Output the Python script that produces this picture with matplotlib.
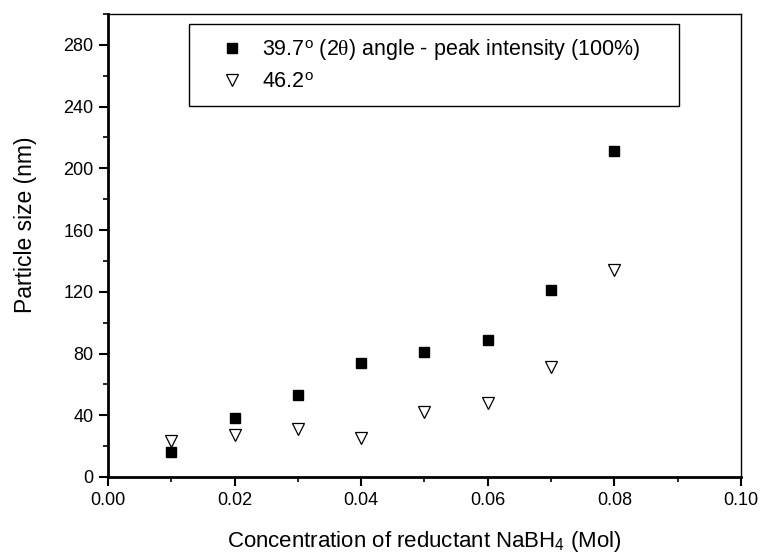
import matplotlib
matplotlib.use("Agg")
import matplotlib.pyplot as plt
from matplotlib.ticker import MultipleLocator, FormatStrFormatter

plt.rcParams['font.family'] = ['Liberation Sans', 'DejaVu Sans']
plt.rcParams['mathtext.fontset'] = 'custom'
plt.rcParams['mathtext.rm'] = 'Liberation Sans'
plt.rcParams['mathtext.it'] = 'Liberation Serif'   # upright serif theta, like Symbol font

# data
conc = [0.01, 0.02, 0.03, 0.04, 0.05, 0.06, 0.07, 0.08]
size_397 = [16, 38, 53, 74, 81, 89, 121, 211]
size_462 = [23, 27, 31, 25, 42, 48, 71, 134]

label_397 = r"39.7$^{\mathrm{o}}$ (2$\theta$) angle - peak intensity (100%)"
label_462 = r"46.2$^{\mathrm{o}}$"

fig = plt.figure(figsize=(7.61, 5.54), dpi=100)
ax = fig.add_axes([0.1419, 0.139, 0.8318, 0.8357])

ax.plot(conc, size_397, ls='none', marker='s', ms=7.8, mfc='black', mec='black',
        label=label_397)
ax.plot(conc, size_462, ls='none', marker='v', ms=9, mfc='white', mec='black',
        mew=0.9, label=label_462)

ax.set_xlim(0, 0.10)
ax.set_ylim(0, 300)
ax.xaxis.set_major_locator(MultipleLocator(0.02))
ax.xaxis.set_minor_locator(MultipleLocator(0.01))
ax.yaxis.set_major_locator(MultipleLocator(40))
ax.yaxis.set_minor_locator(MultipleLocator(20))
ax.xaxis.set_major_formatter(FormatStrFormatter('%.2f'))

ax.tick_params(which='major', direction='out', length=6.5, width=1.5, labelsize=13, pad=4)
ax.tick_params(which='minor', direction='out', length=3.5, width=1.2)
ax.tick_params(top=False, right=False)
ax.spines['left'].set_linewidth(2)
ax.spines['bottom'].set_linewidth(2)
ax.spines['top'].set_linewidth(1)
ax.spines['right'].set_linewidth(1)

ax.set_xlabel(r"Concentration of reductant NaBH$_4$ (Mol)", fontsize=16, labelpad=15)
ax.set_ylabel("Particle size (nm)", fontsize=16.5)
ax.yaxis.set_label_coords(-0.112, 0.544)

leg = ax.legend(loc='upper left', bbox_to_anchor=(0.128, 0.5, 0.774, 0.478), mode='expand',
                fontsize=15.5, frameon=True, fancybox=False, edgecolor='black', framealpha=1,
                handlelength=2.8, handletextpad=0.0, borderpad=0.6, labelspacing=0.45,
                borderaxespad=0)
leg.get_frame().set_linewidth(1)

fig.savefig("out.png", dpi=100)
